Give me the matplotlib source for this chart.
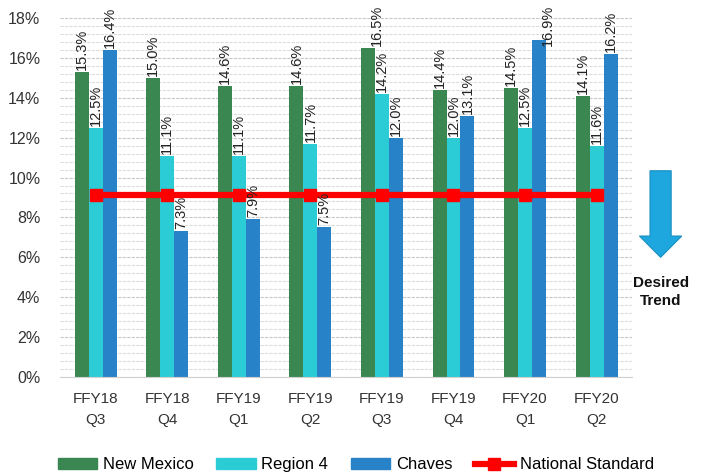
import matplotlib
matplotlib.use("Agg")
import matplotlib.pyplot as plt
import numpy as np
from matplotlib.patches import FancyArrow
from matplotlib.lines import Line2D
from matplotlib.patches import Patch

plt.rcParams['font.family'] = ['Liberation Sans', 'DejaVu Sans']

categories = ["FFY18\nQ3", "FFY18\nQ4", "FFY19\nQ1", "FFY19\nQ2", "FFY19\nQ3", "FFY19\nQ4", "FFY20\nQ1", "FFY20\nQ2"]
new_mexico = [15.3, 15.0, 14.6, 14.6, 16.5, 14.4, 14.5, 14.1]
region4 = [12.5, 11.1, 11.1, 11.7, 14.2, 12.0, 12.5, 11.6]
chaves = [16.4, 7.3, 7.9, 7.5, 12.0, 13.1, 16.9, 16.2]
national_standard = [9.1] * 8

c_green = "#3B8752"
c_cyan = "#2BCCD6"
c_blue = "#2882C8"
c_red = "#FF0000"

fig = plt.figure(figsize=(7.05, 4.73), dpi=100)
ax = fig.add_axes([0.085, 0.203, 0.812, 0.759])

x = np.arange(len(categories))
w = 0.195
label_len = 2.05   # approx. length of a rotated label in data units
top_limit = 18.65
series = [(new_mexico, c_green, "New Mexico"), (region4, c_cyan, "Region 4"), (chaves, c_blue, "Chaves")]
for i, (vals, col, name) in enumerate(series):
    xs = x + (i - 1) * w
    ax.bar(xs, vals, width=w, color=col, zorder=2)
    for xi, v in zip(xs, vals):
        yb = v + 0.1
        dx = 0.0
        if yb + label_len > top_limit:
            yb = top_limit - label_len
            dx = 0.12
        ax.text(xi + dx, yb, f"{v:.1f}%", rotation=90, ha="center", va="bottom",
                fontsize=10.5, color="#222222", clip_on=False, zorder=5)

ax.plot(x, national_standard, color=c_red, lw=4.5, marker="s", markersize=8, zorder=4)

ax.set_xlim(-0.5, len(categories) - 0.5)
ax.set_ylim(0, 18)
ax.set_yticks(np.arange(0, 19, 2))
ax.set_yticklabels([f"{t}%" for t in range(0, 19, 2)])
ax.set_yticks(np.arange(0, 18.01, 0.4), minor=True)
ax.grid(axis="y", which="major", color="#C8C8C8", lw=0.8, ls=(0, (3, 1)), zorder=0)
ax.grid(axis="y", which="minor", color="#DDDDDD", lw=0.8, ls=(0, (3, 1)), zorder=0)
ax.set_xticks(x)
ax.set_xticklabels(categories, linespacing=1.65)
ax.tick_params(axis="both", which="both", length=0, labelsize=11.5, colors="#333333")
ax.tick_params(axis="x", labelsize=11, pad=11)
ax.tick_params(axis="y", pad=14)
for s in ["top", "right", "left"]:
    ax.spines[s].set_visible(False)
ax.spines["bottom"].set_color("#D0D0D0")

# Desired trend arrow
arrow = FancyArrow(0.937, 0.639, 0, -0.183, width=0.03, head_width=0.06, head_length=0.045,
                   length_includes_head=True, transform=fig.transFigure,
                   facecolor="#1EA7DF", edgecolor="#1A8FC0", lw=0.8)
fig.patches.append(arrow)
fig.text(0.937, 0.382, "Desired\nTrend", ha="center", va="center", fontsize=11,
         fontweight="bold", color="#111111", linespacing=1.35)

handles = [Patch(color=c_green), Patch(color=c_cyan), Patch(color=c_blue),
           Line2D([], [], color=c_red, lw=4.5, marker="s", markersize=8)]
labels = ["New Mexico", "Region 4", "Chaves", "National Standard"]
fig.legend(handles, labels, loc="center", bbox_to_anchor=(0.505, 0.017), ncol=4, frameon=False,
           fontsize=12, handlelength=2.35, handletextpad=0.35, columnspacing=1.35,
           handleheight=0.65)

fig.savefig("out.png", dpi=100)
